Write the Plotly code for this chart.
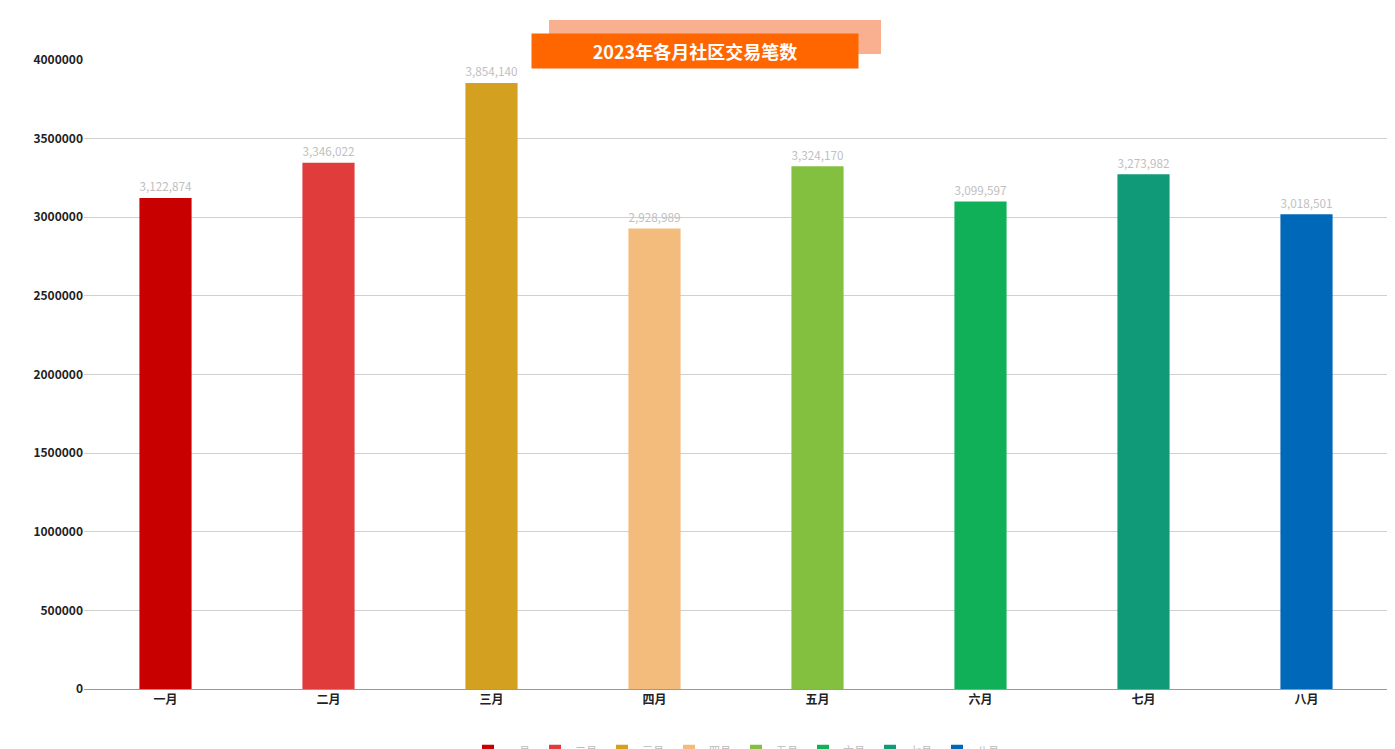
import plotly.graph_objects as go

months = ["一月", "二月", "三月", "四月", "五月", "六月", "七月", "八月"]
values = [3122874, 3346022, 3854140, 2928989, 3324170, 3099597, 3273982, 3018501]
colors = ["#c80000", "#e03c3c", "#d4a020", "#f3bb7c", "#84c040", "#10b058", "#109a78", "#0068b8"]
ticks = [0, 500000, 1000000, 1500000, 2000000, 2500000, 3000000, 3500000, 4000000]

fig = go.Figure()
for m, v, c in zip(months, values, colors):
    fig.add_trace(go.Bar(x=[m], y=[v], name=m, width=0.32, marker=dict(color=c, line=dict(width=0)),
                         text=[f"{v:,}"], textposition="outside", cliponaxis=False,
                         textfont=dict(color="#c0c0c0", size=16, family="Noto Sans CJK SC")))
fig.update_layout(
    width=1395, height=749, plot_bgcolor="white", paper_bgcolor="white",
    barmode="overlay", margin=dict(l=76, r=15, t=52, b=68, autoexpand=False),
    font=dict(family="Noto Sans CJK SC", size=12, color="#222"),
    uniformtext=dict(mode=False),
    xaxis=dict(showline=True, linecolor="#999", tickfont=dict(size=12, color="#222", weight="bold"), ticks=""),
    yaxis=dict(range=[0, 4000000], tickvals=ticks, tickformat="d", gridcolor="#d0d0d0",
               tickfont=dict(size=12, color="#222", weight="bold"), zeroline=False),
    showlegend=True,
    legend=dict(orientation="h", x=0.5, xanchor="center", y=-0.075, yanchor="top",
                font=dict(size=11, color="#bbbbbb"), itemwidth=30, tracegroupgap=0),
    shapes=[
        dict(type="rect", xref="paper", yref="paper", x0=(541-76)/1304, x1=(873-76)/1304,
             y0=(681-46)/629, y1=(681-12)/629, fillcolor="#f8b090", line=dict(width=0), layer="above"),
    ],
    annotations=[dict(text="<b>2023年各月社区交易笔数</b>", xref="paper", yref="paper",
                      x=(521+852)/2/1304 - 76/1304, y=(681-25)/629, showarrow=False,
                      bgcolor="#ff6600", width=320, height=28, borderpad=3,
                      font=dict(size=18, color="white", family="Noto Sans CJK SC"))],
)
fig.write_html("out.html")
